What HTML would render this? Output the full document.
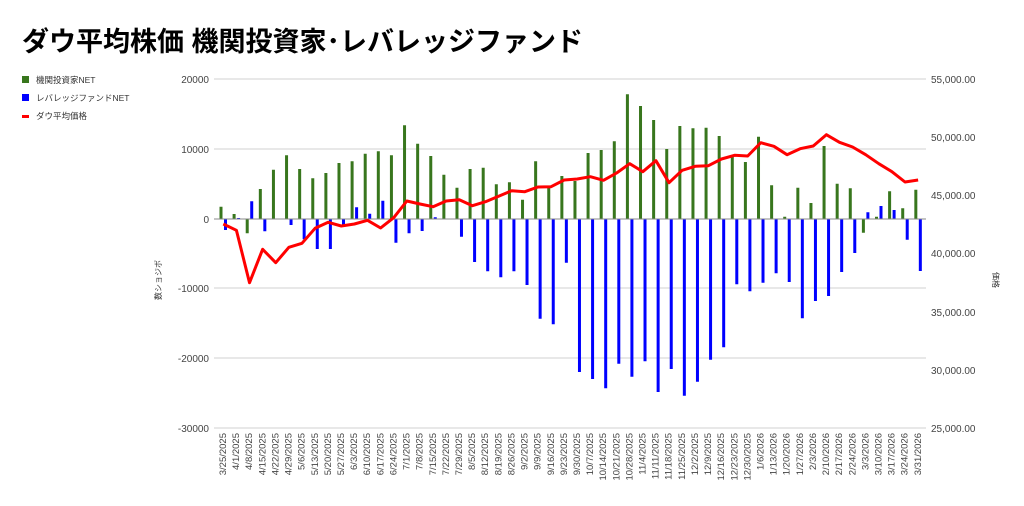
<!DOCTYPE html>
<html><head><meta charset="utf-8"><style>
body{margin:0;background:#fff;}
svg{display:block;font-family:"Liberation Sans","Noto Sans CJK JP",sans-serif;}
</style></head><body>
<svg width="1024" height="506" viewBox="0 0 1024 506">
<text x="22" y="51" font-size="27" font-weight="bold" fill="#000">ダウ平均株価 機関投資家･レバレッジファンド</text>
<rect x="22" y="76" width="7" height="7" fill="#38761d"/>
<text x="36" y="83" font-size="8.5" fill="#333">機関投資家NET</text>
<rect x="22" y="94" width="7" height="7" fill="#0000ff"/>
<text x="36" y="101" font-size="8.5" fill="#333">レバレッジファンドNET</text>
<rect x="22" y="115" width="7" height="3" fill="#ff0000"/>
<text x="36" y="119" font-size="8.5" fill="#333">ダウ平均価格</text>
<g stroke="#e0e0e0" stroke-width="1.5">
<line x1="214" y1="79" x2="926" y2="79"/><line x1="214" y1="149" x2="926" y2="149"/>
<line x1="214" y1="288" x2="926" y2="288"/><line x1="214" y1="358" x2="926" y2="358"/>
<line x1="214" y1="428" x2="926" y2="428"/>
</g>
<g font-size="10" fill="#444" text-anchor="end">
<text x="209" y="83">20000</text><text x="209" y="153">10000</text><text x="209" y="223">0</text>
<text x="209" y="292">-10000</text><text x="209" y="362">-20000</text><text x="209" y="432">-30000</text>
</g>
<g font-size="10" fill="#444">
<text x="931" y="83">55,000.00</text><text x="931" y="141">50,000.00</text><text x="931" y="199">45,000.00</text>
<text x="931" y="257">40,000.00</text><text x="931" y="316">35,000.00</text><text x="931" y="374">30,000.00</text>
<text x="931" y="432">25,000.00</text>
</g>
<text transform="translate(161,280) rotate(-90)" font-size="8" fill="#333" text-anchor="middle">数ショジボ</text>
<text transform="translate(993,280) rotate(90)" font-size="8" fill="#333" text-anchor="middle">価格</text>
<g transform="translate(221,0) scale(13.11,1)" fill="none" stroke-width="3">
<path vector-effect="non-scaling-stroke" stroke="#38761d" d="M0 219V206.7M1 219V214M2 219V233.3M3 219V189M4 219V169.7M5 219V155.3M6 219V169M7 219V178.3M8 219V173M9 219V163M10 219V161.3M11 219V153.7M12 219V151.3M13 219V155.3M14 219V125.3M15 219V143.7M16 219V156M17 219V174.7M18 219V187.7M19 219V169M20 219V167.7M21 219V184.3M22 219V182.3M23 219V199.7M24 219V161.3M25 219V187.7M26 219V176M27 219V181M28 219V153M29 219V150M30 219V141.3M31 219V94.3M32 219V106M33 219V120M34 219V149M35 219V126M36 219V128.3M37 219V127.7M38 219V136M39 219V156.7M40 219V162M41 219V136.7M42 219V185.3M43 219V216.7M44 219V187.7M45 219V203M46 219V146M47 219V183.7M48 219V188.3M49 219V232.7M50 219V216.7M51 219V191.3M52 219V208.3M53 219V189.7"/>
</g>
<g transform="translate(225.5,0) scale(13.11,1)" fill="none" stroke-width="3">
<path vector-effect="non-scaling-stroke" stroke="#0000ff" d="M0 219V230M1 219V218M2 219V201.3M3 219V231.3M5 219V225M6 219V239.3M7 219V249M8 219V249M9 219V225M10 219V207.3M11 219V213.7M12 219V200.7M13 219V242.7M14 219V233.3M15 219V231M16 219V217.3M18 219V236.7M19 219V262M20 219V271.3M21 219V277.3M22 219V271.3M23 219V285M24 219V318.7M25 219V324.3M26 219V262.7M27 219V372M28 219V379M29 219V388.3M30 219V363.7M31 219V376.7M32 219V361.3M33 219V392M34 219V369M35 219V395.7M36 219V381.7M37 219V359.7M38 219V347.3M39 219V284.3M40 219V291.3M41 219V282.7M42 219V273.3M43 219V282M44 219V318.3M45 219V301M46 219V296M47 219V272M48 219V253M49 219V212.3M50 219V206M51 219V210M52 219V239.7M53 219V271"/>
</g>
<line x1="214" y1="219" x2="926" y2="219" stroke="#888" stroke-width="1"/>
<g transform="translate(223.3,0) scale(13.11,1)">
<polyline vector-effect="non-scaling-stroke" fill="none" stroke="#ff0000" stroke-width="3" stroke-linejoin="round" points="0,224 1,230.3 2,282.7 3,249.3 4,262.7 5,247.3 6,243.3 7,228.3 8,222.3 9,226 10,224 11,220.3 12,228 13,217.7 14,201 15,204 16,206.7 17,201 18,199.7 19,205.7 20,201.7 21,196.3 22,190.7 23,191.7 24,187 25,186.7 26,180 27,179 28,176.7 29,180.3 30,173 31,163.7 32,171.7 33,160.7 34,182.7 35,170.3 36,166.3 37,165.7 38,159 39,155.3 40,156 41,142.7 42,146.3 43,154.7 44,148.7 45,146 46,134.7 47,142.3 48,147 49,154.7 50,163.7 51,171.7 52,182 53,180"/>
</g>
<g font-size="9.5" fill="#444" text-anchor="end">
<text transform="translate(226,433) rotate(-90)">3/25/2025</text>
<text transform="translate(239.1,433) rotate(-90)">4/1/2025</text>
<text transform="translate(252.2,433) rotate(-90)">4/8/2025</text>
<text transform="translate(265.3,433) rotate(-90)">4/15/2025</text>
<text transform="translate(278.4,433) rotate(-90)">4/22/2025</text>
<text transform="translate(291.6,433) rotate(-90)">4/29/2025</text>
<text transform="translate(304.7,433) rotate(-90)">5/6/2025</text>
<text transform="translate(317.8,433) rotate(-90)">5/13/2025</text>
<text transform="translate(330.9,433) rotate(-90)">5/20/2025</text>
<text transform="translate(344,433) rotate(-90)">5/27/2025</text>
<text transform="translate(357.1,433) rotate(-90)">6/3/2025</text>
<text transform="translate(370.2,433) rotate(-90)">6/10/2025</text>
<text transform="translate(383.3,433) rotate(-90)">6/17/2025</text>
<text transform="translate(396.4,433) rotate(-90)">6/24/2025</text>
<text transform="translate(409.5,433) rotate(-90)">7/1/2025</text>
<text transform="translate(422.7,433) rotate(-90)">7/8/2025</text>
<text transform="translate(435.8,433) rotate(-90)">7/15/2025</text>
<text transform="translate(448.9,433) rotate(-90)">7/22/2025</text>
<text transform="translate(462,433) rotate(-90)">7/29/2025</text>
<text transform="translate(475.1,433) rotate(-90)">8/5/2025</text>
<text transform="translate(488.2,433) rotate(-90)">8/12/2025</text>
<text transform="translate(501.3,433) rotate(-90)">8/19/2025</text>
<text transform="translate(514.4,433) rotate(-90)">8/26/2025</text>
<text transform="translate(527.5,433) rotate(-90)">9/2/2025</text>
<text transform="translate(540.6,433) rotate(-90)">9/9/2025</text>
<text transform="translate(553.8,433) rotate(-90)">9/16/2025</text>
<text transform="translate(566.9,433) rotate(-90)">9/23/2025</text>
<text transform="translate(580,433) rotate(-90)">9/30/2025</text>
<text transform="translate(593.1,433) rotate(-90)">10/7/2025</text>
<text transform="translate(606.2,433) rotate(-90)">10/14/2025</text>
<text transform="translate(619.3,433) rotate(-90)">10/21/2025</text>
<text transform="translate(632.4,433) rotate(-90)">10/28/2025</text>
<text transform="translate(645.5,433) rotate(-90)">11/4/2025</text>
<text transform="translate(658.6,433) rotate(-90)">11/11/2025</text>
<text transform="translate(671.7,433) rotate(-90)">11/18/2025</text>
<text transform="translate(684.9,433) rotate(-90)">11/25/2025</text>
<text transform="translate(698,433) rotate(-90)">12/2/2025</text>
<text transform="translate(711.1,433) rotate(-90)">12/9/2025</text>
<text transform="translate(724.2,433) rotate(-90)">12/16/2025</text>
<text transform="translate(737.3,433) rotate(-90)">12/23/2025</text>
<text transform="translate(750.4,433) rotate(-90)">12/30/2025</text>
<text transform="translate(763.5,433) rotate(-90)">1/6/2026</text>
<text transform="translate(776.6,433) rotate(-90)">1/13/2026</text>
<text transform="translate(789.7,433) rotate(-90)">1/20/2026</text>
<text transform="translate(802.8,433) rotate(-90)">1/27/2026</text>
<text transform="translate(816,433) rotate(-90)">2/3/2026</text>
<text transform="translate(829.1,433) rotate(-90)">2/10/2026</text>
<text transform="translate(842.2,433) rotate(-90)">2/17/2026</text>
<text transform="translate(855.3,433) rotate(-90)">2/24/2026</text>
<text transform="translate(868.4,433) rotate(-90)">3/3/2026</text>
<text transform="translate(881.5,433) rotate(-90)">3/10/2026</text>
<text transform="translate(894.6,433) rotate(-90)">3/17/2026</text>
<text transform="translate(907.7,433) rotate(-90)">3/24/2026</text>
<text transform="translate(920.8,433) rotate(-90)">3/31/2026</text>
</g>
</svg>
</body></html>
